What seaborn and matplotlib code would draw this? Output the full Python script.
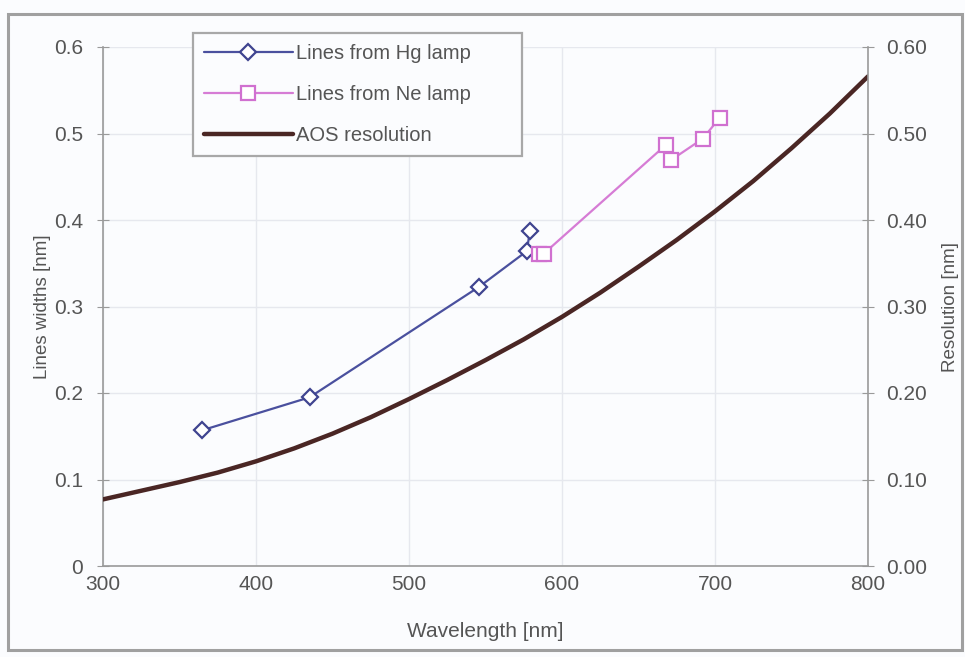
import numpy as np
import pandas as pd
import matplotlib
matplotlib.use("Agg")
import matplotlib.pyplot as plt
import seaborn as sns

# =========================
# DATA
# =========================

hg_wavelength = [365, 435, 546, 577, 579]
hg_width = [0.157, 0.195, 0.323, 0.364, 0.387]

ne_wavelength = [585, 588, 668, 671, 692, 703]
ne_width = [0.361, 0.361, 0.487, 0.469, 0.494, 0.518]

aos_wavelength = [300, 325, 350, 375, 400, 425, 450, 475, 500, 525, 550,
                  575, 600, 625, 650, 675, 700, 725, 750, 775, 800]
aos_resolution = [0.077, 0.087, 0.097, 0.108, 0.121, 0.136, 0.153, 0.172, 0.193, 0.215, 0.238,
                  0.262, 0.288, 0.316, 0.346, 0.377, 0.410, 0.445, 0.483, 0.523, 0.566]

x_ticks = [300, 400, 500, 600, 700, 800]
y_ticks = [0, 0.1, 0.2, 0.3, 0.4, 0.5, 0.6]
y_left_labels = ["0", "0.1", "0.2", "0.3", "0.4", "0.5", "0.6"]
y_right_labels = ["0.00", "0.10", "0.20", "0.30", "0.40", "0.50", "0.60"]

hg_df = pd.DataFrame({"wl": hg_wavelength, "w": hg_width})
ne_df = pd.DataFrame({"wl": ne_wavelength, "w": ne_width})
aos_df = pd.DataFrame({"wl": aos_wavelength, "r": aos_resolution})

# =========================
# STYLE
# =========================

sns.set_style("white")
plt.rcParams['font.family'] = ['Liberation Sans', 'DejaVu Sans']
text_col = "#555555"
axis_col = "#9a9a9a"
bg_col = "#fbfcfe"

fig = plt.figure(figsize=(9.65, 6.57), dpi=100)
fig.patch.set_facecolor(bg_col)
ax = fig.add_axes([103/965, 1 - 566/657, 765/965, 519/657])
ax.set_facecolor(bg_col)

# outer frame
fig.add_artist(plt.Rectangle((8/965, 7/657), 954/965, 636/657, transform=fig.transFigure,
                             fill=False, edgecolor="#a0a0a0", linewidth=2.2))

# =========================
# LINES
# =========================

sns.lineplot(data=hg_df, x="wl", y="w", ax=ax, color="#4a509e", linewidth=1.6,
             marker="D", markersize=8, markerfacecolor="white", markeredgecolor="#3f4490",
             markeredgewidth=1.6, label="Lines from Hg lamp", sort=False)
sns.lineplot(data=ne_df, x="wl", y="w", ax=ax, color="#d67cd5", linewidth=1.6,
             marker="s", markersize=10, markerfacecolor="white", markeredgecolor="#d070d0",
             markeredgewidth=1.6, label="Lines from Ne lamp", sort=False)

ax2 = ax.twinx()
sns.lineplot(data=aos_df, x="wl", y="r", ax=ax2, color="#4a2624", linewidth=3.2,
             label="AOS resolution", legend=False)

# =========================
# AXES
# =========================

for a in (ax, ax2):
    a.set_xlim(300, 800)
    a.set_ylim(0, 0.6)
    a.set_yticks(y_ticks)
    for s in a.spines.values():
        s.set_visible(False)

ax.set_xticks(x_ticks)
ax.set_xticklabels([str(t) for t in x_ticks])
ax.set_yticklabels(y_left_labels)
ax2.set_yticklabels(y_right_labels)

ax.spines["left"].set_visible(True)
ax.spines["bottom"].set_visible(True)
ax2.spines["right"].set_visible(True)
for s in (ax.spines["left"], ax.spines["bottom"], ax2.spines["right"]):
    s.set_color(axis_col)
    s.set_linewidth(1.2)

ax.grid(True, color="#e6e8ee", linewidth=1.0)
ax.set_axisbelow(True)

ax.tick_params(axis="y", direction="inout", length=9, color=axis_col, labelsize=15,
               labelcolor=text_col, pad=10)
ax.tick_params(axis="x", length=0, labelsize=15, labelcolor=text_col, pad=6.5)
ax2.tick_params(axis="y", direction="inout", length=9, color=axis_col, labelsize=15,
                labelcolor=text_col, pad=8.5)

ax.set_xlabel("Wavelength [nm]", fontsize=15, color=text_col, labelpad=20)
ax.set_ylabel("Lines widths [nm]", fontsize=13.5, color=text_col, labelpad=2)
ax2.set_ylabel("Resolution [nm]", fontsize=13.5, color=text_col, labelpad=11)

# =========================
# LEGEND
# =========================

h1, l1 = ax.get_legend_handles_labels()
h2, l2 = ax2.get_legend_handles_labels()
ax.get_legend().remove()
leg = fig.legend(h1 + h2, l1 + l2, loc="upper left", mode="expand",
                 bbox_to_anchor=(193/965, 1 - 155/657, 329/965, 122/657), fontsize=14.5,
                 frameon=True, fancybox=False, handlelength=4.4, handletextpad=0.15,
                 labelspacing=1.1, borderpad=0.55, borderaxespad=0, labelcolor=text_col)
leg.get_frame().set_edgecolor("#a8a8a8")
leg.get_frame().set_linewidth(1.6)
leg.get_frame().set_facecolor(bg_col)
leg.get_frame().set_alpha(1)

fig.savefig("out.png", dpi=100, facecolor=fig.get_facecolor())
